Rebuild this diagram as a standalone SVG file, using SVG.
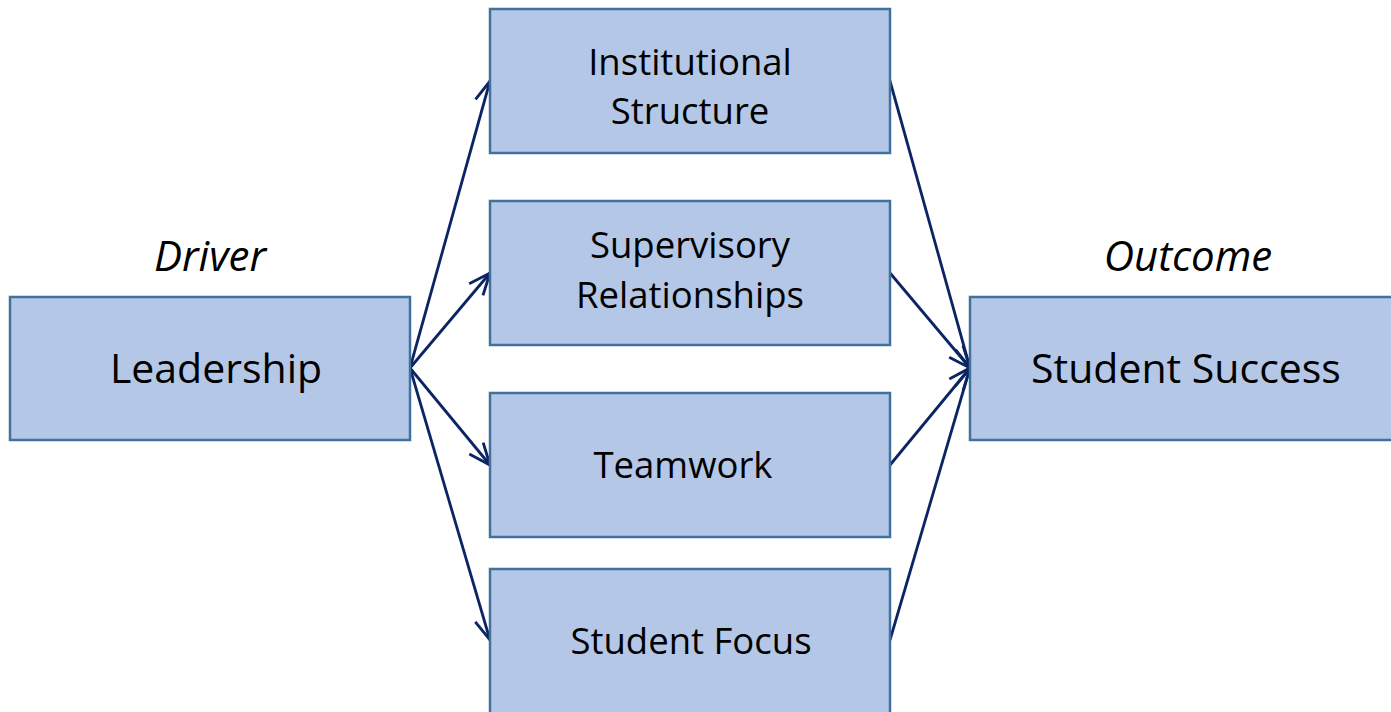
<svg xmlns="http://www.w3.org/2000/svg" width="1391" height="712" viewBox="0 0 1391 712">
<defs>
<style>
.box{fill:#b4c7e7;stroke:#41719c;stroke-width:2.5}
.t{font-family:"Open Sans","Liberation Sans",sans-serif;font-size:36.5px;fill:#000;text-anchor:middle}
.big{font-size:41px}
.lab{font-family:"Open Sans","Liberation Sans",sans-serif;font-size:42px;font-style:italic;fill:#000;text-anchor:middle}
.c{stroke:#0b2463;stroke-width:2.8;fill:none;marker-end:url(#ah)}
</style>
<marker id="ah" viewBox="0 0 20 20" refX="19" refY="10" markerWidth="24" markerHeight="24" markerUnits="userSpaceOnUse" orient="auto">
<path d="M1,2.5 L19,10 L1,17.5" fill="none" stroke="#0b2463" stroke-width="2.4"/>
</marker>
</defs>
<rect width="1391" height="712" fill="#fff"/>
<g id="connectors">
<line class="c" x1="410" y1="368" x2="490" y2="81"/>
<line class="c" x1="410" y1="368" x2="490" y2="273"/>
<line class="c" x1="410" y1="368" x2="490" y2="465"/>
<line class="c" x1="410" y1="368" x2="490" y2="640"/>
<line class="c" x1="890" y1="81" x2="970" y2="368"/>
<line class="c" x1="890" y1="273" x2="970" y2="368"/>
<line class="c" x1="890" y1="465" x2="970" y2="368"/>
<line class="c" x1="890" y1="640" x2="970" y2="368"/>
</g>
<g id="driver-label"><text class="lab" x="210" y="271">Driver</text></g>
<g id="outcome-label"><text class="lab" x="1188" y="271">Outcome</text></g>
<g id="leadership">
<rect class="box" x="10" y="297" width="400" height="143"/>
<text class="t big" x="216" y="383">Leadership</text>
</g>
<g id="institutional-structure">
<rect class="box" x="490" y="9" width="400" height="144"/>
<text class="t" x="690" y="75">Institutional</text>
<text class="t" x="690" y="124">Structure</text>
</g>
<g id="supervisory-relationships">
<rect class="box" x="490" y="201" width="400" height="144"/>
<text class="t" x="690" y="258">Supervisory</text>
<text class="t" x="690" y="308">Relationships</text>
</g>
<g id="teamwork">
<rect class="box" x="490" y="393" width="400" height="144"/>
<text class="t" x="683" y="478">Teamwork</text>
</g>
<g id="student-focus">
<rect class="box" x="490" y="569" width="400" height="150"/>
<text class="t" x="691" y="654">Student Focus</text>
</g>
<g id="student-success">
<rect class="box" x="970" y="297" width="430" height="143"/>
<text class="t big" x="1186" y="383">Student Success</text>
</g>
</svg>
